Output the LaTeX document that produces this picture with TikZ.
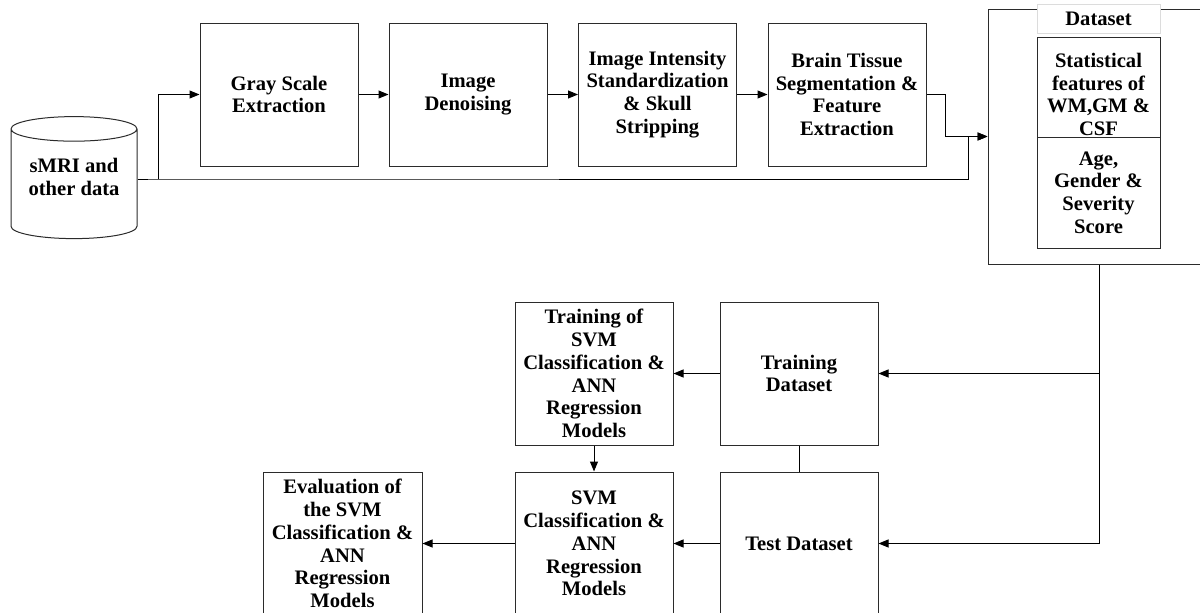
\documentclass[tikz,border=0pt]{standalone}
\usepackage{fontspec}
\setmainfont{Liberation Serif}
\usepackage{xcolor}
\usetikzlibrary{arrows.meta,positioning,shapes.geometric,calc}
\definecolor{linedark}{HTML}{2B2B2B}
\definecolor{labelgray}{HTML}{DCDCDC}
\tikzset{
  stagebox/.style={draw=linedark, line width=1pt, align=center, fill=white, inner sep=3pt, minimum width=158pt, minimum height=143pt},
  featbox/.style={draw=linedark, line width=1pt, align=center, fill=white, inner sep=2pt, minimum width=123pt},
  store/.style={draw=linedark, line width=1pt, cylinder, shape border rotate=90, aspect=0.27, align=center, fill=white, minimum width=126pt, minimum height=122pt, inner sep=0pt},
  arrow/.style={-{Triangle[length=10pt, width=8pt]}, line width=1pt, draw=black},
  link/.style={line width=1pt, draw=black}
}
\begin{document}
\begin{tikzpicture}[x=1pt, y=-1pt, font=\fontsize{20.6}{22.8}\selectfont\bfseries]
  \useasboundingbox (0,0) rectangle (1200,613);
  \node[store] (smri) at (74,184) {sMRI and\\other data\rule[-15pt]{0pt}{0pt}};
  \node[stagebox] (gray) at (279,94.5) {Gray Scale\\Extraction};
  \node[stagebox] (denoise) at (468,94.5) {Image\\Denoising};
  \node[stagebox] (intensity) at (657.5,94.5) {Image Intensity\\Standardization\\\& Skull\\Stripping};
  \node[stagebox] (tissue) at (847,94.5) {Brain Tissue\\Segmentation \&\\Feature\\Extraction};

  \node[draw=linedark, line width=1pt, minimum width=222pt, minimum height=255pt] (dataset) at (1099,136.5) {};
  \node[draw=labelgray, fill=white, minimum width=123pt, minimum height=29pt, inner sep=0pt] (dslabel) at (1098.5,19) {Dataset};
  \node[featbox, minimum height=99pt] (stats) at (1098.5,87.5) {\rule{0pt}{28pt}Statistical\\features of\\WM,GM \&\\CSF};
  \node[featbox, minimum height=111pt] (demo) at (1098.5,192.5) {Age,\\Gender \&\\Severity\\Score};

  \node[stagebox] (trainset) at (799,373.5) {Training\\Dataset};
  \node[stagebox] (testset) at (799,543.5) {Test Dataset};
  \node[stagebox] (trainsvm) at (594,373.5) {Training of\\SVM\\Classification \&\\ANN\\Regression\\Models};
  \node[stagebox] (svm) at (594,543.5) {SVM\\Classification \&\\ANN\\Regression\\Models};
  \node[stagebox, minimum width=159pt] (eval) at (342.5,543.5) {Evaluation of\\the SVM\\Classification \&\\ANN\\Regression\\Models};

  \coordinate (split) at (158,179);
  \coordinate (merge) at (968,136.5);

  \draw[link] (smri.east |- split) -- (split) -| (merge);
  \draw[arrow] (split) |- (gray.west);
  \draw[arrow] (gray) -- (denoise);
  \draw[arrow] (denoise) -- (intensity);
  \draw[arrow] (intensity) -- (tissue);
  \draw[arrow] (tissue.east) -- ++(19,0) |- (dataset.west);
  \draw[arrow] (merge) -- (dataset.west);

  \draw[arrow] (dataset.south) |- (testset.east);
  \draw[arrow] (dataset.south |- trainset.east) -- (trainset.east);
  \draw[link] (trainset) -- (testset);
  \draw[arrow] (trainset) -- (trainsvm);
  \draw[arrow] (trainsvm) -- (svm);
  \draw[arrow] (testset) -- (svm);
  \draw[arrow] (svm) -- (eval);
\end{tikzpicture}
\end{document}
